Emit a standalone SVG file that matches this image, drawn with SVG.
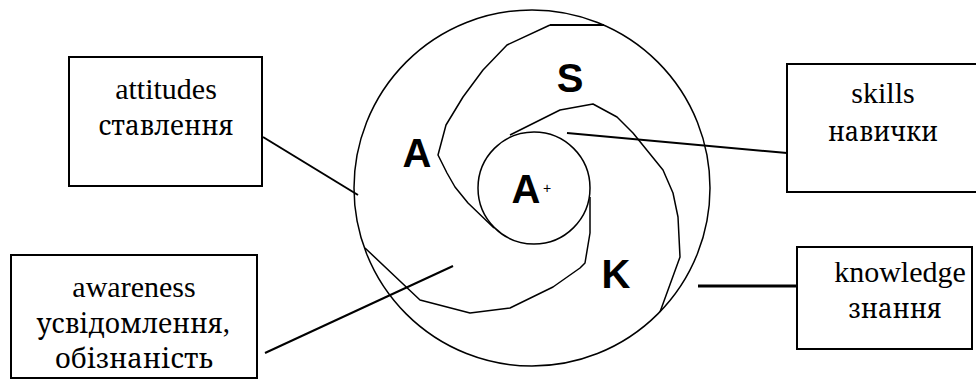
<svg xmlns="http://www.w3.org/2000/svg" width="976" height="379" viewBox="0 0 976 379">
<style>
.box{fill:#fff;stroke:#000;stroke-width:2}
.lbl{font-family:"Liberation Serif","Times New Roman",serif;font-size:30px;fill:#000;text-anchor:middle}
.cyr{font-family:"Noto Serif","DejaVu Serif","FreeSerif","Liberation Serif","Times New Roman",serif;font-size:27px;fill:#000;text-anchor:middle}
.big{font-family:"Liberation Sans",Arial,sans-serif;font-weight:bold;font-size:40px;fill:#000;text-anchor:middle}
.ln{fill:none;stroke:#000;stroke-width:1.5;stroke-linejoin:round}
.con{fill:none;stroke:#000;stroke-width:2}
</style>
<rect width="976" height="379" fill="#fff"/>
<g id="wheel">
<circle class="ln" cx="532" cy="188" r="178"/>
<circle class="ln" cx="534" cy="188" r="56"/>
<line x1="550" y1="25" x2="604" y2="25" stroke="#000" stroke-width="2.2"/>
<polyline class="ln" points="550,25 507,45 483,70 463,97 446,125 438,155 447,173 455,187 468,203 494,228"/>
<polyline class="ln" points="510,135 560,110 593,104 617,117 633,133 663,170 673,193 678,217 680,257 660,312"/>
<polyline class="ln" points="590,197 590,233 585,263 580,268 553,287 510,308 470,313 420,300 365,248"/>
<text class="big" x="570" y="92">S</text>
<text class="big" x="417" y="167">A</text>
<text class="big" x="616" y="288">K</text>
<text class="big" x="526" y="203">A</text>
<text x="547" y="193" font-family="Liberation Sans,Arial,sans-serif" font-size="14" text-anchor="middle">+</text>
</g>
<g id="connectors">
<line class="con" x1="263" y1="137" x2="358" y2="195"/>
<line class="con" x1="265" y1="353" x2="453" y2="266"/>
<line class="con" x1="567" y1="133" x2="787" y2="153"/>
<line x1="698" y1="286" x2="811" y2="286" stroke="#000" stroke-width="3"/>
</g>
<g id="attitudes">
<rect class="box" x="69" y="57" width="193" height="129"/>
<text class="lbl" x="166" y="99">attitudes</text>
<text class="cyr" x="166" y="135" textLength="135" lengthAdjust="spacingAndGlyphs">ставлення</text>
</g>
<g id="awareness">
<rect class="box" x="11" y="255" width="246" height="123"/>
<text class="lbl" x="134" y="297">awareness</text>
<text class="cyr" x="133" y="333" textLength="193" lengthAdjust="spacingAndGlyphs">усвідомлення,</text>
<text class="cyr" x="134" y="368" textLength="158" lengthAdjust="spacingAndGlyphs">обізнаність</text>
</g>
<g id="skills">
<rect class="box" x="787" y="64" width="195" height="128"/>
<text class="lbl" x="883" y="103">skills</text>
<text class="cyr" x="883" y="141" textLength="110" lengthAdjust="spacingAndGlyphs">навички</text>
</g>
<g id="knowledge">
<rect class="box" x="797" y="247" width="175" height="102"/>
<text class="lbl" x="900" y="282">knowledge</text>
<text class="cyr" x="895" y="318" textLength="93" lengthAdjust="spacingAndGlyphs">знання</text>
</g>
</svg>
